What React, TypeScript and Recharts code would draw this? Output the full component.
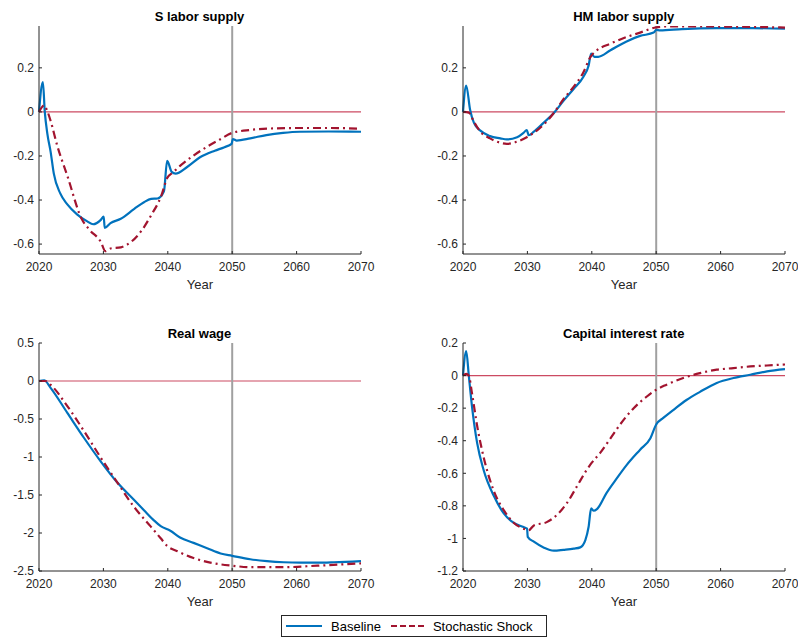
import React from 'react';
import { LineChart, Line, XAxis, YAxis, ReferenceLine } from 'recharts';

// S labor supply
const sLaborBaseYears = [2020, 2020.6, 2020.9, 2021.3, 2021.8, 2022.3, 2023.3, 2024.4, 2025.9, 2027.5, 2028.4, 2029.6, 2030.05, 2030.2, 2031.1, 2032.7, 2034.8, 2036.3, 2037.4, 2038.4, 2039.4, 2039.9, 2040.6, 2041.2, 2043, 2045, 2047.3, 2048.8, 2049.9, 2050.1, 2050.7, 2052.8, 2055.3, 2057.9, 2060.5, 2065, 2070];
const sLaborBase = [0, 0.135, 0.0, -0.1, -0.18, -0.28, -0.37, -0.42, -0.465, -0.497, -0.51, -0.49, -0.475, -0.527, -0.505, -0.485, -0.44, -0.41, -0.395, -0.393, -0.36, -0.222, -0.272, -0.28, -0.25, -0.206, -0.176, -0.16, -0.145, -0.123, -0.13, -0.12, -0.105, -0.095, -0.09, -0.089, -0.09];
const sLaborShockYears = [2020, 2020.8, 2021.2, 2021.8, 2022.8, 2024.4, 2026.6, 2027.9, 2029.6, 2030.3, 2031.1, 2032.7, 2034.3, 2035.9, 2037.4, 2039, 2039.9, 2040.8, 2041.9, 2043.9, 2046, 2048.1, 2050, 2052.8, 2055.4, 2060.5, 2065, 2070];
const sLaborShock = [0, 0.03, 0.01, -0.04, -0.15, -0.29, -0.484, -0.537, -0.59, -0.632, -0.62, -0.615, -0.59, -0.54, -0.47, -0.38, -0.3, -0.275, -0.245, -0.2, -0.16, -0.125, -0.095, -0.082, -0.076, -0.073, -0.073, -0.076];

// HM labor supply
const hmLaborBaseYears = [2020, 2020.5, 2021.1, 2021.7, 2022.7, 2024.2, 2025.8, 2026.8, 2028.4, 2029.4, 2029.9, 2030.2, 2031, 2032.5, 2034.1, 2035.6, 2037.2, 2038.7, 2039.5, 2039.9, 2040.4, 2041, 2042.9, 2045.4, 2047.5, 2049.6, 2050, 2050.6, 2054, 2059.4, 2065, 2070];
const hmLaborBase = [0, 0.12, 0.01, -0.05, -0.085, -0.11, -0.12, -0.125, -0.115, -0.095, -0.082, -0.106, -0.09, -0.05, -0.005, 0.05, 0.105, 0.16, 0.21, 0.265, 0.25, 0.25, 0.28, 0.32, 0.345, 0.36, 0.372, 0.37, 0.376, 0.38, 0.38, 0.378];
const hmLaborShockYears = [2020, 2020.9, 2021.7, 2022.7, 2024.2, 2025.8, 2026.8, 2028.4, 2029.9, 2031, 2032.5, 2034.1, 2035.6, 2037.2, 2038.7, 2039.8, 2040.8, 2042.9, 2045.4, 2047.5, 2050, 2051.7, 2056.9, 2062, 2070];
const hmLaborShock = [0, -0.003, -0.045, -0.09, -0.12, -0.14, -0.145, -0.135, -0.115, -0.095, -0.058, -0.005, 0.058, 0.115, 0.18, 0.25, 0.28, 0.31, 0.34, 0.36, 0.384, 0.388, 0.388, 0.387, 0.383];

// Real wage
const wageBaseYears = [2020, 2020.8, 2021.8, 2024.4, 2027, 2029.6, 2032.2, 2034.7, 2036.3, 2037.8, 2038.9, 2040.4, 2041.9, 2044, 2046.1, 2048.2, 2050, 2052.8, 2055.4, 2058, 2060.6, 2063.2, 2065.8, 2070];
const wageBase = [0, 0.01, -0.09, -0.42, -0.75, -1.06, -1.34, -1.56, -1.7, -1.83, -1.91, -1.97, -2.06, -2.13, -2.2, -2.27, -2.3, -2.345, -2.37, -2.385, -2.39, -2.39, -2.385, -2.37];
const wageShockYears = [2020, 2021, 2021.8, 2024.4, 2027, 2029.6, 2032.2, 2034.7, 2037.3, 2038.9, 2039.9, 2041.5, 2044, 2046.6, 2050, 2052.8, 2058, 2063.2, 2070];
const wageShock = [0, 0, -0.05, -0.33, -0.66, -1.01, -1.34, -1.65, -1.91, -2.07, -2.17, -2.24, -2.33, -2.39, -2.43, -2.45, -2.45, -2.43, -2.4];

// Capital interest rate
const rateBaseYears = [2020, 2020.5, 2020.9, 2021.4, 2022.2, 2023.2, 2024.8, 2026.3, 2027.9, 2029.4, 2029.95, 2030.05, 2031, 2032.5, 2034.1, 2035.6, 2037.2, 2038.2, 2039, 2039.5, 2039.9, 2040.3, 2040.8, 2042.3, 2043.9, 2045.4, 2047.5, 2049.1, 2050, 2051.1, 2052.7, 2054.7, 2056.8, 2059.4, 2062, 2064.6, 2067.2, 2070];
const rateBase = [0, 0.15, 0, -0.19, -0.415, -0.58, -0.74, -0.845, -0.905, -0.93, -0.94, -0.99, -1.02, -1.055, -1.075, -1.07, -1.063, -1.055, -1.01, -0.93, -0.815, -0.83, -0.82, -0.72, -0.63, -0.55, -0.455, -0.385, -0.3, -0.26, -0.21, -0.15, -0.1, -0.045, -0.015, 0.005, 0.026, 0.04];
const rateShockYears = [2020, 2020.5, 2020.9, 2021.4, 2022.2, 2023.2, 2024.8, 2026.3, 2027.9, 2029.4, 2030.2, 2031, 2033, 2034.6, 2036.1, 2037.7, 2039.2, 2040, 2041.3, 2042.9, 2044.4, 2046.5, 2048.5, 2050, 2051.6, 2054.2, 2056.8, 2059.4, 2062, 2064.6, 2067.2, 2070];
const rateShock = [0, 0.01, 0, -0.11, -0.31, -0.5, -0.71, -0.825, -0.905, -0.94, -0.95, -0.92, -0.9, -0.855, -0.785, -0.68, -0.58, -0.535, -0.475, -0.385, -0.3, -0.2, -0.13, -0.087, -0.056, -0.015, 0.015, 0.036, 0.046, 0.056, 0.062, 0.068];

const yearTicks = [2020, 2030, 2040, 2050, 2060, 2070];
const laborTicks = [-0.6, -0.4, -0.2, 0, 0.2];
const wageTicks = [-2.5, -2, -1.5, -1, -0.5, 0, 0.5];
const rateTicks = [-1.2, -1, -0.8, -0.6, -0.4, -0.2, 0, 0.2];

const BLUE = '#0072BD';
const RED = '#A2142F';
const FONT = '"Liberation Sans", Arial, Helvetica, sans-serif';

const zip = (xs: number[], ys: number[]) => xs.map((year, i) => ({ year, value: ys[i] }));

interface PanelProps {
  title: string;
  plotLeft: number;
  plotTop: number;
  domain: [number, number];
  ticks: number[];
  baseline: { year: number; value: number }[];
  shock: { year: number; value: number }[];
}

const PLOT_W = 322;
const PLOT_H = 228;
const AXIS_W = 40;
const TOP = 30;
const BOTTOM = 48;

const Panel = ({ title, plotLeft, plotTop, domain, ticks, baseline, shock }: PanelProps) => {
  const tickStyle = { fontSize: 12, fill: '#262626', fontFamily: FONT };
  return (
    <div style={{ position: 'absolute', left: plotLeft - AXIS_W, top: plotTop - TOP }}>
      <div
        style={{
          position: 'absolute',
          left: AXIS_W,
          width: PLOT_W,
          top: TOP - 16,
          textAlign: 'center',
          fontFamily: FONT,
          fontWeight: 'bold',
          fontSize: 13,
          lineHeight: '14px',
          color: '#000',
        }}
      >
        {title}
      </div>
      <LineChart
        width={AXIS_W + PLOT_W + 20}
        height={TOP + PLOT_H + BOTTOM}
        margin={{ top: TOP, right: 20, bottom: 0, left: 0 }}
      >
        {/* reference lines first so the curves sit on top */}
        <ReferenceLine y={0} stroke="#CC4A62" strokeWidth={1.2} />
        <ReferenceLine x={2050} stroke="#A0A0A0" strokeWidth={2} />
        <XAxis
          dataKey="year"
          type="number"
          domain={[2020, 2070]}
          ticks={yearTicks}
          allowDuplicatedCategory={false}
          height={BOTTOM}
          stroke="#262626"
          tickSize={-3}
          tickMargin={11}
          tick={tickStyle}
          label={{ value: 'Year', position: 'insideBottom', offset: 13, fill: '#262626', fontSize: 13, fontFamily: FONT }}
        />
        <YAxis
          type="number"
          domain={domain}
          ticks={ticks}
          allowDataOverflow
          width={AXIS_W}
          stroke="#262626"
          tickSize={-3}
          tickMargin={8}
          tick={tickStyle}
        />
        <Line
          data={baseline}
          dataKey="value"
          stroke={BLUE}
          strokeWidth={2.2}
          dot={false}
          type="monotone"
          isAnimationActive={false}
        />
        <Line
          data={shock}
          dataKey="value"
          stroke={RED}
          strokeWidth={2.2}
          strokeDasharray="8 4 2 4"
          dot={false}
          type="monotone"
          isAnimationActive={false}
        />
      </LineChart>
    </div>
  );
};

export default function App() {
  return (
    <div style={{ position: 'absolute', left: 0, top: 0, width: 798, height: 638, background: '#fff', overflow: 'hidden' }}>
      <Panel title="S labor supply" plotLeft={38.5} plotTop={26} domain={[-0.645, 0.39]} ticks={laborTicks}
        baseline={zip(sLaborBaseYears, sLaborBase)} shock={zip(sLaborShockYears, sLaborShock)} />
      <Panel title="HM labor supply" plotLeft={462.7} plotTop={26} domain={[-0.645, 0.39]} ticks={laborTicks}
        baseline={zip(hmLaborBaseYears, hmLaborBase)} shock={zip(hmLaborShockYears, hmLaborShock)} />
      <Panel title="Real wage" plotLeft={38.5} plotTop={343.3} domain={[-2.5, 0.5]} ticks={wageTicks}
        baseline={zip(wageBaseYears, wageBase)} shock={zip(wageShockYears, wageShock)} />
      <Panel title="Capital interest rate" plotLeft={462.7} plotTop={343.3} domain={[-1.2, 0.2]} ticks={rateTicks}
        baseline={zip(rateBaseYears, rateBase)} shock={zip(rateShockYears, rateShock)} />
      <div
        style={{
          position: 'absolute',
          left: 281,
          top: 615,
          width: 266,
          height: 22,
          border: '1px solid #262626',
          background: '#fff',
          fontFamily: FONT,
          fontSize: 13,
          color: '#000',
          display: 'flex',
          alignItems: 'center',
          boxSizing: 'border-box',
        }}
      >
        <svg width={40} height={10} style={{ marginLeft: 2 }}>
          <line x1={2} y1={5} x2={38} y2={5} stroke={BLUE} strokeWidth={2} />
        </svg>
        <span style={{ marginLeft: 7 }}>Baseline</span>
        <svg width={40} height={10} style={{ marginLeft: 8 }}>
          <line x1={2} y1={5} x2={38} y2={5} stroke={RED} strokeWidth={2} strokeDasharray="6 3" />
        </svg>
        <span style={{ marginLeft: 4 }}>Stochastic Shock</span>
      </div>
    </div>
  );
}
